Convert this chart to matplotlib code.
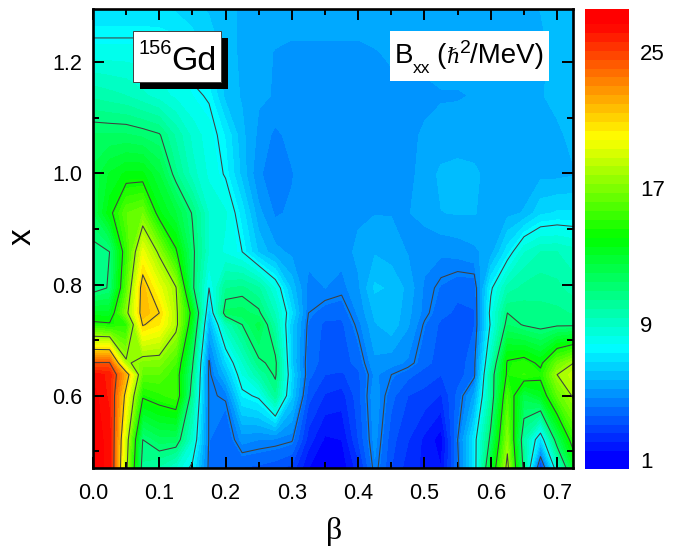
import numpy as np
import matplotlib
matplotlib.use('Agg')
import matplotlib.pyplot as plt
from matplotlib.colors import ListedColormap, BoundaryNorm
from matplotlib.patches import Rectangle
from matplotlib.ticker import MultipleLocator, FormatStrFormatter

W, H = 696, 547
plt.rcParams['font.family'] = ['Liberation Sans', 'DejaVu Sans']

beta = [0.0, 0.025, 0.05, 0.075, 0.1, 0.125, 0.15, 0.175, 0.2, 0.225,
        0.25, 0.275, 0.3, 0.325, 0.35, 0.375, 0.4, 0.425, 0.45, 0.475,
        0.5, 0.525, 0.55, 0.575, 0.6, 0.625, 0.65, 0.675, 0.7, 0.725]
x_vals = [0.47, 0.521, 0.6, 0.638, 0.659, 0.728, 0.749, 0.794, 0.859, 0.929, 0.999, 1.069, 1.14, 1.219, 1.3]

b_047 = [27.5,27,18.5,10.5,10,9,7.5,4.2,3.8,3.7,3.6,3.4,3.0,1.6,1.1,1.2,2.4,4.7,3.2,2.4,2.0,1.6,4.2,7.2,13,18.5,10.7,2.8,8.8,13.2]
b_052 = [27.5,27,19,11.2,12,12,9,4.3,3.7,5,4.8,4.7,4.5,2.4,1.5,1.6,3.2,5,3.4,2.7,2,1.3,4.4,7.3,11.6,17.5,10,6.8,12,15.5]
b_060 = [27.5,26.5,20.8,14.8,15.3,15.8,10.4,4.3,4.5,7.5,8,10.5,6.5,3.4,2.6,2.4,3.5,5.2,3.9,3.2,3,2.6,3.9,5.5,10.2,16,12.5,13.5,16.5,18.2]
b_064 = [27,26.5,22.4,16.5,16.5,15.5,11,4.2,6,8.5,10,11.4,6.8,3.9,3.2,3.1,3.6,4.9,4.4,3.9,3.5,3.2,3.4,4.2,10.3,14.9,15.5,15,18,19]
b_066 = [24.9,24.9,18.3,17.3,17.3,16,11.4,4.3,6.8,9,11.0,11.5,6.5,3.9,3.6,3.5,3.9,5.2,5,4.7,3.9,3.5,3.3,4.2,9.5,14.8,15.2,14.3,16.8,18]
b_073 = [15,14.8,15.3,21.5,20.8,18.5,13.4,5.8,9.5,11.2,12.5,10,6.5,4.2,3.6,3.6,4.6,5.8,6.2,5.4,4.3,3.6,3.4,3.7,8,11.7,11.1,10.8,11,11]
b_075 = [13.5,13.5,17.5,22.2,21.4,18.4,14,6.5,11.9,12,11.4,9.5,7,4.4,4,3.9,4.9,6,6.3,5.5,4.6,3.9,3.6,3.7,8.2,11.2,11,10.8,10.8,10.6]
b_079 = [10.7,11.3,16.3,22.2,20,18.1,11.5,7.8,10.6,10.8,10.2,8.5,6.2,4.6,4.8,4.6,5.2,6.5,6.3,5.7,4.7,4.2,3.9,3.9,7.6,9.8,10.3,10.5,10.3,9.8]
b_086 = [10.8,11.2,15.5,20,17.7,14.8,11.5,9,8.4,7.8,6.3,5.5,5.2,5,4.9,5,5.5,5.8,5.6,5.3,5,4.9,5,5.2,5.6,7.2,9,9.6,9.6,9.3]
b_093 = [12.2,14.2,16.5,17,14,12.8,11.1,9,8.6,7.2,5.5,4.7,4.9,5.2,5.2,5.2,5.2,5.3,5.3,5.3,5.5,5.85,5.9,5.9,5.6,5.7,5.9,6.8,7,7]
b_100 = [12.4,13.4,14,14,12.8,10.8,9.3,8.4,7.7,6.2,4.85,4.6,4.75,5.2,5.2,5.2,5.2,5.2,5.2,5.2,5.5,6,6.1,6,5.6,5.6,5.6,5.7,5.7,5.8]
b_107 = [11.8,11.8,11.8,11.6,11.3,10,8.9,8.2,7.4,6,5.2,4.65,5,5.2,5.2,5.2,5.2,5.2,5.2,5.2,5.4,5.45,5.5,5.5,5.5,5.6,5.6,5.6,5.7,6.1]
b_114 = [10,9.8,9.6,9.2,8.8,8.4,8,7.7,6.2,5.8,5.4,5.3,5.2,5.2,5.1,5.1,5.1,5.2,5.2,5.2,5.2,5.3,5.3,5.35,5.5,5.5,5.6,5.8,6.1,6.3]
b_122 = [8.2,8.2,8.2,8.2,8.1,7.9,7.3,6.8,6.2,5.7,5.5,5.3,5.2,5.2,5.2,5.2,5.2,5.3,5.4,5.5,5.5,5.5,5.5,5.5,5.5,5.5,5.5,5.6,6.2,6.4]
b_130 = [6.9,6.9,6.9,6.9,6.9,6.8,6.6,6.3,6,5.8,5.7,5.7,5.7,5.7,5.7,5.7,5.7,5.7,5.7,5.7,5.7,5.7,5.7,5.7,5.7,5.7,5.7,5.9,6.3,6.4]

rows = [b_047, b_052, b_060, b_064, b_066, b_073, b_075, b_079, b_086, b_093, b_100, b_107, b_114, b_122, b_130]
Z = np.array(rows)

line_levels = [4.4, 7.8, 11.2, 14.6, 18.0, 21.4, 24.8]
bar_ticks = [1, 9, 17, 25]
fill_levels = 0.53 + np.arange(53) * 8 / 15

mids = (fill_levels[:-1] + fill_levels[1:]) / 2
stops_v = [1.3, 7.8, 14.4, 20.4, 27.2]
r = np.interp(mids, stops_v, [0, 0, 0, 1, 1])
g = np.interp(mids, stops_v, [0, 1, 1, 1, 0])
b = np.interp(mids, stops_v, [1, 1, 0, 0, 0])
cmap = ListedColormap(np.column_stack([r, g, b]))
norm = BoundaryNorm(fill_levels, cmap.N)

def fx(px): return px / W
def fy(py): return 1 - py / H

fig = plt.figure(figsize=(W / 100, H / 100), dpi=100)
ax = fig.add_axes([fx(93), fy(468), (573 - 93) / W, (468 - 9) / H])
ax.contourf(beta, x_vals, Z, levels=fill_levels, cmap=cmap, norm=norm, extend='both')
ax.contour(beta, x_vals, Z, levels=line_levels, colors='#404040', linewidths=0.75)
ax.set_xlim(0, 0.724)
ax.set_ylim(0.47, 1.296)
ax.xaxis.set_major_locator(MultipleLocator(0.1))
ax.xaxis.set_minor_locator(MultipleLocator(0.05))
ax.yaxis.set_major_locator(MultipleLocator(0.2))
ax.yaxis.set_minor_locator(MultipleLocator(0.1))
ax.tick_params(which='major', direction='in', top=True, right=True, length=8, width=1.4,
               labelsize=15.5)
ax.tick_params(which='minor', direction='in', top=True, right=True, length=4.3, width=1.4)
ax.tick_params(axis='x', which='major', pad=10.5)
ax.tick_params(axis='y', which='major', pad=8)
ax.xaxis.set_major_formatter(FormatStrFormatter('%.1f'))
ax.yaxis.set_major_formatter(FormatStrFormatter('%.1f'))
for s in ax.spines.values():
    s.set_linewidth(1.9)

fig.text(fx(22), fy(237), 'x', rotation=90, fontsize=24, ha='center', va='center')
fig.text(fx(334), fy(531), 'β', fontsize=23, ha='center', va='center', family='Liberation Serif')

# colour bar
cax = fig.add_axes([fx(585), fy(470), 44 / W, (470 - 9) / H])
cax.pcolormesh([0, 1], fill_levels, mids.reshape(-1, 1), cmap=cmap, norm=norm)
cax.set_ylim(0.47, 28.1)
cax.axis('off')
for t_val in bar_ticks:
    py = 462 - (t_val - 1) * 17
    fig.text(fx(640), fy(py), str(t_val), fontsize=16, ha='left', va='center')

# annotation boxes
fig.patches.append(Rectangle((fx(140), fy(89)), 88 / W, 51 / H, transform=fig.transFigure,
                             facecolor='black', edgecolor='none', zorder=5))
fig.patches.append(Rectangle((fx(133), fy(82)), 88 / W, 51 / H, transform=fig.transFigure,
                             facecolor='white', edgecolor='#404040', linewidth=0.7, zorder=6))
fig.patches.append(Rectangle((fx(390), fy(81)), 159 / W, 50 / H, transform=fig.transFigure,
                             facecolor='white', edgecolor='none', zorder=5))

def t(px, py, s, size, **kw):
    fig.text(fx(px), fy(py), s, fontsize=size, ha='left', va='baseline', zorder=7, **kw)

t(138, 54, '156', 14.5)
t(171, 70, 'Gd', 24.5)
t(395, 63, 'B', 20)
t(413, 73, 'xx', 12.5)
t(436, 63, '(', 20)
t(446, 63, 'ℏ', 15, family='DejaVu Serif', style='italic')
t(460, 53, '2', 14)
t(470, 63, '/MeV)', 20)

fig.savefig('out.png', dpi=100)
